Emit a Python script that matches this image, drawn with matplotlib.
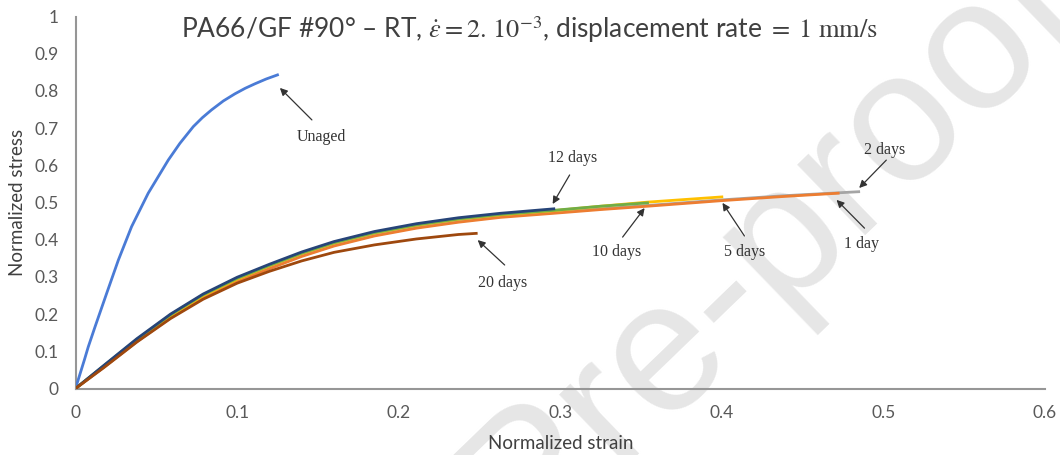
import matplotlib
matplotlib.use("Agg")
import matplotlib.pyplot as plt
import matplotlib.transforms as mtransforms
import numpy as np

# ---- data ----
unaged_x = [0, 0.0055, 0.0079, 0.0121, 0.0193, 0.0265, 0.0347, 0.045, 0.0574, 0.0646, 0.0729,
            0.0785, 0.0842, 0.0915, 0.0986, 0.105, 0.111, 0.118, 0.125]
unaged_y = [0, 0.077, 0.112, 0.166, 0.256, 0.345, 0.435, 0.525, 0.614, 0.659, 0.704,
            0.728, 0.749, 0.773, 0.792, 0.807, 0.819, 0.832, 0.843]

aged_x = [0, 0.0175, 0.038, 0.0588, 0.079, 0.1, 0.12, 0.14, 0.16, 0.185, 0.211, 0.237, 0.263, 0.296,
          0.325, 0.354, 0.40, 0.4376, 0.472, 0.4847]

day1_y = [0, 0.057, 0.126, 0.19, 0.243, 0.287, 0.322, 0.355, 0.383, 0.41, 0.431, 0.447, 0.46, 0.471,
          0.481, 0.49, 0.505, 0.516, 0.525]
day2_y = [0, 0.058, 0.128, 0.192, 0.245, 0.289, 0.324, 0.357, 0.385, 0.412, 0.433, 0.449, 0.462, 0.473,
          0.483, 0.492, 0.507, 0.518, 0.526, 0.529]
day5_y = [0, 0.06, 0.131, 0.196, 0.25, 0.294, 0.33, 0.363, 0.391, 0.418, 0.439, 0.455, 0.467, 0.478,
          0.490, 0.501, 0.515]
day10_y = [0, 0.061, 0.132, 0.198, 0.252, 0.296, 0.331, 0.364, 0.392, 0.419, 0.44, 0.456, 0.468, 0.479,
           0.490, 0.499]
day12_y = [0, 0.062, 0.134, 0.2, 0.254, 0.299, 0.334, 0.367, 0.395, 0.422, 0.443, 0.459, 0.471, 0.483]
day20_x = [0, 0.0175, 0.038, 0.0588, 0.079, 0.1, 0.12, 0.14, 0.16, 0.185, 0.211, 0.237, 0.248]
day20_y = [0, 0.056, 0.125, 0.188, 0.24, 0.283, 0.315, 0.343, 0.366, 0.386, 0.402, 0.414, 0.417]

x_ticks = [0, 0.1, 0.2, 0.3, 0.4, 0.5, 0.6]
x_ticklabels = ["0", "0.1", "0.2", "0.3", "0.4", "0.5", "0.6"]
y_ticks = [0, 0.1, 0.2, 0.3, 0.4, 0.5, 0.6, 0.7, 0.8, 0.9, 1.0]
y_ticklabels = ["0", "0.1", "0.2", "0.3", "0.4", "0.5", "0.6", "0.7", "0.8", "0.9", "1"]

# label text, arrow head, arrow tail, text position
notes = [
    ("Unaged", (0.1265, 0.808), (0.1463, 0.722), (0.1524, 0.676)),
    ("12 days", (0.2953, 0.496), (0.3058, 0.574), (0.3077, 0.620)),
    ("10 days", (0.3522, 0.485), (0.3386, 0.407), (0.3349, 0.367)),
    ("5 days", (0.4004, 0.499), (0.4140, 0.410), (0.4140, 0.367)),
    ("1 day", (0.4710, 0.507), (0.4883, 0.431), (0.4864, 0.388)),
    ("2 days", (0.4850, 0.539), (0.5018, 0.614), (0.5006, 0.641)),
    ("20 days", (0.2489, 0.399), (0.2656, 0.332), (0.2644, 0.284)),
]

plt.rcParams["mathtext.fontset"] = "stix"

fig = plt.figure(figsize=(10.6, 4.55), dpi=100)
ax = fig.add_axes([75.5 / 1060, 1 - 388.5 / 455, (1045 - 75.5) / 1060, (388.5 - 16.5) / 455])
ax.set_facecolor("none")

# watermark behind everything
fig.text(53, -565, "Journal Pre-proof", transform=mtransforms.IdentityTransform(),
         fontsize=134, family="Liberation Sans", color="#e6e6e6", rotation=44,
         rotation_mode="anchor", ha="left", va="baseline", zorder=-5)

lw = 2.0
ax.plot(unaged_x, unaged_y, color="#4a7bd6", lw=lw, zorder=3, solid_joinstyle="round")
ax.plot(aged_x[:len(day2_y)], day2_y, color="#a5a5a5", lw=lw, zorder=2)
ax.plot(aged_x[:len(day1_y)], day1_y, color="#ed7d31", lw=lw, zorder=3)
ax.plot(aged_x[:len(day5_y)], day5_y, color="#ffc000", lw=lw, zorder=4)
ax.plot(aged_x[:len(day10_y)], day10_y, color="#70ad47", lw=lw, zorder=5)
ax.plot(aged_x[:len(day12_y)], day12_y, color="#264478", lw=lw, zorder=6)
ax.plot(day20_x, day20_y, color="#9e480e", lw=lw, zorder=7)

for txt, head, tail, pos in notes:
    ax.annotate("", xy=head, xytext=tail,
                arrowprops=dict(arrowstyle="-|>", color="#333333", lw=0.9, mutation_scale=11,
                                shrinkA=0, shrinkB=0), zorder=8)
    ax.text(pos[0], pos[1], txt, ha="center", va="center", fontsize=11.5,
            family="Liberation Serif", color="#333333", zorder=8)

ax.set_xlim(0, 0.6)
ax.set_ylim(0, 1)
ax.set_xticks(x_ticks)
ax.set_xticklabels(x_ticklabels)
ax.set_yticks(y_ticks)
ax.set_yticklabels(y_ticklabels)
ax.tick_params(length=0, labelsize=12.5, labelcolor="#595959", pad=12)
for lab in ax.get_xticklabels() + ax.get_yticklabels():
    lab.set_family("Lato")

for s in ["top", "right"]:
    ax.spines[s].set_visible(False)
for s in ["bottom", "left"]:
    ax.spines[s].set_color("#969696")
    ax.spines[s].set_linewidth(1.5)

ax.set_xlabel("Normalized strain", fontsize=13.5, family="Lato", color="#404040", labelpad=10)
ax.set_ylabel("Normalized stress", fontsize=13.5, family="Lato", color="#404040", labelpad=6)

fig.text(530 / 1060, 1 - 30 / 455,
         r"PA66/GF #90° – RT, $\dot{\varepsilon} = 2.\,10^{-3}$, displacement rate " + r"$=\;1\ \mathrm{mm/s}$",
         ha="center", va="center", fontsize=19, family="Lato", color="#404040")

fig.savefig("out.png", dpi=100)
